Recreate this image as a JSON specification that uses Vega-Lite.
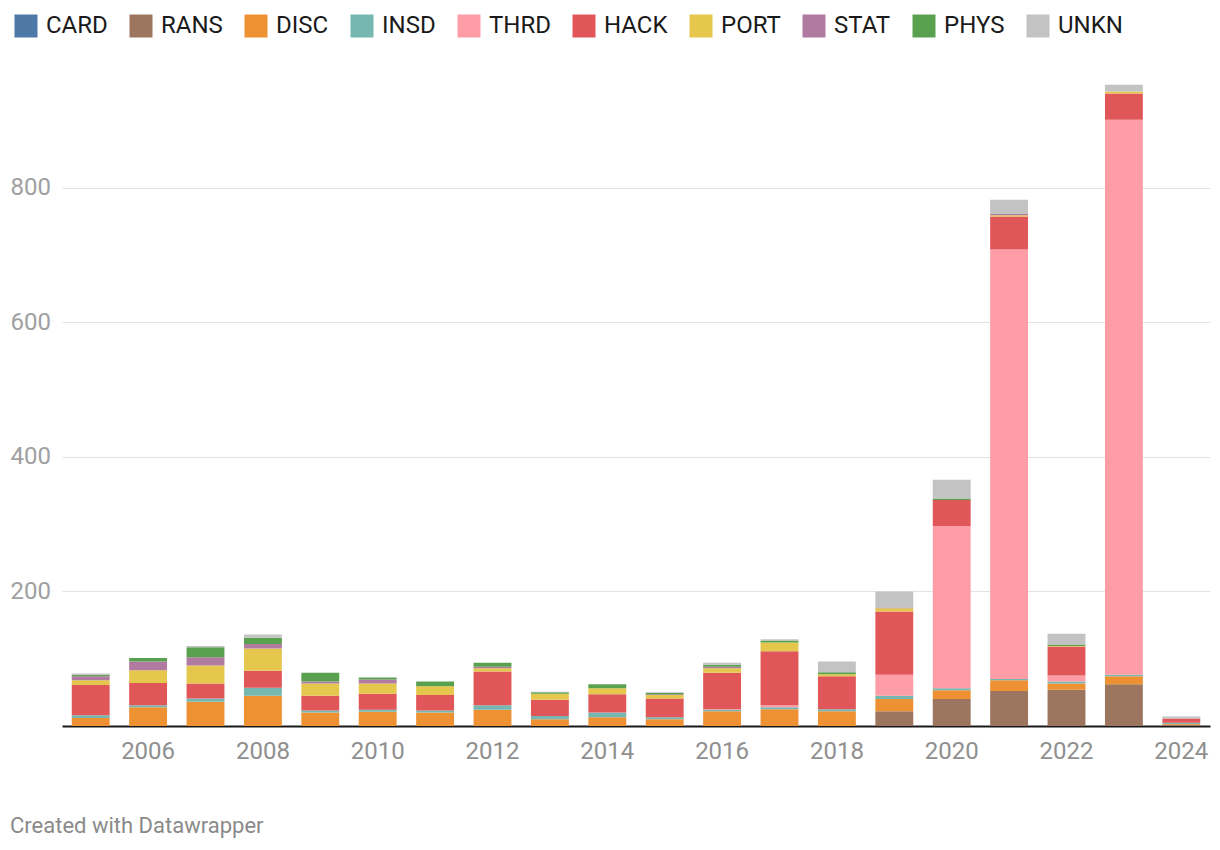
{
  "$schema": "https://vega.github.io/schema/vega-lite/v6.json",
  "autosize": "none",
  "width": 1148,
  "height": 646,
  "padding": {"left": 62, "top": 80, "right": 10, "bottom": 124},
  "background": "white",
  "config": {"font": "Roboto", "view": {"stroke": null}},
  "title": {"text": "Created with Datawrapper", "orient": "bottom", "anchor": "start", "dx": 0, "offset": 53, "fontSize": 22, "font": "Roboto", "fontWeight": "normal", "color": "#8a8a8a"},
  "data": {"values": [
    {"year": 2005, "cat": "CARD", "value": 0},
    {"year": 2005, "cat": "DISC", "value": 12}, {"year": 2005, "cat": "INSD", "value": 4}, {"year": 2005, "cat": "HACK", "value": 45}, {"year": 2005, "cat": "PORT", "value": 7}, {"year": 2005, "cat": "STAT", "value": 6}, {"year": 2005, "cat": "PHYS", "value": 2}, {"year": 2005, "cat": "UNKN", "value": 2},
    {"year": 2006, "cat": "DISC", "value": 28}, {"year": 2006, "cat": "INSD", "value": 3}, {"year": 2006, "cat": "HACK", "value": 33}, {"year": 2006, "cat": "PORT", "value": 19}, {"year": 2006, "cat": "STAT", "value": 13}, {"year": 2006, "cat": "PHYS", "value": 5},
    {"year": 2007, "cat": "DISC", "value": 36}, {"year": 2007, "cat": "INSD", "value": 5}, {"year": 2007, "cat": "HACK", "value": 22}, {"year": 2007, "cat": "PORT", "value": 27}, {"year": 2007, "cat": "STAT", "value": 12}, {"year": 2007, "cat": "PHYS", "value": 15}, {"year": 2007, "cat": "UNKN", "value": 2},
    {"year": 2008, "cat": "DISC", "value": 45}, {"year": 2008, "cat": "INSD", "value": 12}, {"year": 2008, "cat": "HACK", "value": 25}, {"year": 2008, "cat": "PORT", "value": 33}, {"year": 2008, "cat": "STAT", "value": 7}, {"year": 2008, "cat": "PHYS", "value": 9}, {"year": 2008, "cat": "UNKN", "value": 5},
    {"year": 2009, "cat": "DISC", "value": 20}, {"year": 2009, "cat": "INSD", "value": 3}, {"year": 2009, "cat": "HACK", "value": 22}, {"year": 2009, "cat": "PORT", "value": 18}, {"year": 2009, "cat": "STAT", "value": 3}, {"year": 2009, "cat": "PHYS", "value": 13},
    {"year": 2010, "cat": "DISC", "value": 21}, {"year": 2010, "cat": "INSD", "value": 3}, {"year": 2010, "cat": "HACK", "value": 24}, {"year": 2010, "cat": "PORT", "value": 15}, {"year": 2010, "cat": "STAT", "value": 6}, {"year": 2010, "cat": "PHYS", "value": 3},
    {"year": 2011, "cat": "DISC", "value": 20}, {"year": 2011, "cat": "INSD", "value": 3}, {"year": 2011, "cat": "HACK", "value": 23}, {"year": 2011, "cat": "PORT", "value": 13}, {"year": 2011, "cat": "PHYS", "value": 7},
    {"year": 2012, "cat": "DISC", "value": 24}, {"year": 2012, "cat": "INSD", "value": 7}, {"year": 2012, "cat": "HACK", "value": 50}, {"year": 2012, "cat": "PORT", "value": 5}, {"year": 2012, "cat": "STAT", "value": 2}, {"year": 2012, "cat": "PHYS", "value": 6},
    {"year": 2013, "cat": "DISC", "value": 10}, {"year": 2013, "cat": "INSD", "value": 5}, {"year": 2013, "cat": "HACK", "value": 24}, {"year": 2013, "cat": "PORT", "value": 9}, {"year": 2013, "cat": "PHYS", "value": 2}, {"year": 2013, "cat": "UNKN", "value": 1},
    {"year": 2014, "cat": "DISC", "value": 13}, {"year": 2014, "cat": "INSD", "value": 7}, {"year": 2014, "cat": "HACK", "value": 27}, {"year": 2014, "cat": "PORT", "value": 9}, {"year": 2014, "cat": "PHYS", "value": 6},
    {"year": 2015, "cat": "DISC", "value": 10}, {"year": 2015, "cat": "INSD", "value": 3}, {"year": 2015, "cat": "HACK", "value": 28}, {"year": 2015, "cat": "PORT", "value": 5}, {"year": 2015, "cat": "STAT", "value": 1}, {"year": 2015, "cat": "PHYS", "value": 2}, {"year": 2015, "cat": "UNKN", "value": 1},
    {"year": 2016, "cat": "DISC", "value": 22}, {"year": 2016, "cat": "INSD", "value": 2}, {"year": 2016, "cat": "THRD", "value": 1}, {"year": 2016, "cat": "HACK", "value": 54}, {"year": 2016, "cat": "PORT", "value": 7}, {"year": 2016, "cat": "STAT", "value": 2}, {"year": 2016, "cat": "PHYS", "value": 3}, {"year": 2016, "cat": "UNKN", "value": 3},
    {"year": 2017, "cat": "DISC", "value": 25}, {"year": 2017, "cat": "INSD", "value": 3}, {"year": 2017, "cat": "THRD", "value": 3}, {"year": 2017, "cat": "HACK", "value": 80}, {"year": 2017, "cat": "PORT", "value": 13}, {"year": 2017, "cat": "PHYS", "value": 3}, {"year": 2017, "cat": "UNKN", "value": 2},
    {"year": 2018, "cat": "DISC", "value": 22}, {"year": 2018, "cat": "INSD", "value": 3}, {"year": 2018, "cat": "HACK", "value": 49}, {"year": 2018, "cat": "PORT", "value": 3}, {"year": 2018, "cat": "PHYS", "value": 3}, {"year": 2018, "cat": "UNKN", "value": 16},
    {"year": 2019, "cat": "RANS", "value": 22}, {"year": 2019, "cat": "DISC", "value": 18}, {"year": 2019, "cat": "INSD", "value": 5}, {"year": 2019, "cat": "THRD", "value": 31}, {"year": 2019, "cat": "HACK", "value": 94}, {"year": 2019, "cat": "PORT", "value": 5}, {"year": 2019, "cat": "STAT", "value": 1}, {"year": 2019, "cat": "UNKN", "value": 24},
    {"year": 2020, "cat": "RANS", "value": 40}, {"year": 2020, "cat": "DISC", "value": 13}, {"year": 2020, "cat": "INSD", "value": 3}, {"year": 2020, "cat": "THRD", "value": 241}, {"year": 2020, "cat": "HACK", "value": 39}, {"year": 2020, "cat": "PHYS", "value": 2}, {"year": 2020, "cat": "UNKN", "value": 28},
    {"year": 2021, "cat": "RANS", "value": 52}, {"year": 2021, "cat": "DISC", "value": 16}, {"year": 2021, "cat": "INSD", "value": 2}, {"year": 2021, "cat": "THRD", "value": 638}, {"year": 2021, "cat": "HACK", "value": 49}, {"year": 2021, "cat": "PORT", "value": 2}, {"year": 2021, "cat": "STAT", "value": 2}, {"year": 2021, "cat": "UNKN", "value": 21},
    {"year": 2022, "cat": "RANS", "value": 54}, {"year": 2022, "cat": "DISC", "value": 9}, {"year": 2022, "cat": "INSD", "value": 3}, {"year": 2022, "cat": "THRD", "value": 9}, {"year": 2022, "cat": "HACK", "value": 43}, {"year": 2022, "cat": "PORT", "value": 1}, {"year": 2022, "cat": "PHYS", "value": 2}, {"year": 2022, "cat": "UNKN", "value": 16},
    {"year": 2023, "cat": "RANS", "value": 62}, {"year": 2023, "cat": "DISC", "value": 12}, {"year": 2023, "cat": "INSD", "value": 2}, {"year": 2023, "cat": "THRD", "value": 825}, {"year": 2023, "cat": "HACK", "value": 39}, {"year": 2023, "cat": "PORT", "value": 3}, {"year": 2023, "cat": "UNKN", "value": 10},
    {"year": 2024, "cat": "RANS", "value": 2}, {"year": 2024, "cat": "DISC", "value": 1}, {"year": 2024, "cat": "INSD", "value": 2}, {"year": 2024, "cat": "HACK", "value": 6}, {"year": 2024, "cat": "UNKN", "value": 3}
  ]},
  "transform": [
    {"calculate": "indexof(['CARD','RANS','DISC','INSD','THRD','HACK','PORT','STAT','PHYS','UNKN'], datum.cat)", "as": "ord"}
  ],
  "mark": {"type": "bar"},
  "encoding": {
    "x": {
      "field": "year", "type": "ordinal",
      "scale": {"paddingInner": 0.34, "paddingOuter": 0.17},
      "axis": {
        "title": null, "values": [2006, 2008, 2010, 2012, 2014, 2016, 2018, 2020, 2022, 2024],
        "labelAngle": 0, "labelFontSize": 24, "labelColor": "#8f8f8f", "labelFont": "Roboto",
        "ticks": false, "labelPadding": 13, "domainColor": "#1a1a1a", "domainWidth": 2, "grid": false
      }
    },
    "y": {
      "field": "value", "type": "quantitative", "aggregate": "sum", "stack": "zero",
      "scale": {"domain": [0, 960], "nice": false},
      "axis": {
        "title": null, "values": [200, 400, 600, 800], "domain": false, "ticks": false,
        "labelAlign": "left", "labelPadding": 52, "labelFontSize": 24, "labelColor": "#a0a0a0", "labelFont": "Roboto",
        "gridColor": "#e3e3e3", "gridWidth": 1
      }
    },
    "color": {
      "field": "cat", "type": "nominal",
      "scale": {
        "domain": ["CARD", "RANS", "DISC", "INSD", "THRD", "HACK", "PORT", "STAT", "PHYS", "UNKN"],
        "range": ["#4e79a7", "#9c755f", "#ee9132", "#76b7b2", "#ff9da7", "#e15759", "#e6c74d", "#b07aa1", "#59a14f", "#c3c3c3"]
      },
      "legend": {
        "title": null, "orient": "none", "legendX": -48, "legendY": -66, "direction": "horizontal",
        "symbolType": "square", "symbolSize": 529, "symbolStrokeWidth": 0, "symbolOpacity": 1,
        "labelFontSize": 24, "labelFont": "Roboto", "labelColor": "#1a1a1a", "labelOffset": 8, "columnPadding": 21
      }
    },
    "order": {"field": "ord", "type": "quantitative", "sort": "ascending"}
  }
}
